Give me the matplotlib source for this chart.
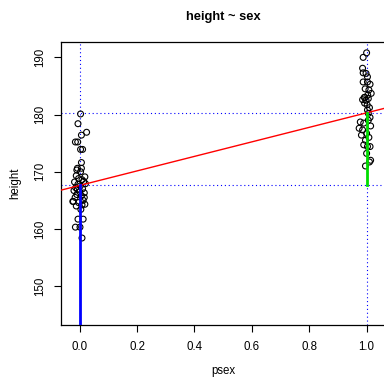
import numpy as np
import matplotlib
matplotlib.use("Agg")
import matplotlib.pyplot as plt

plt.rcParams['font.family'] = ['Liberation Sans', 'DejaVu Sans']

# jittered psex and height
f_psex = [0.003, -0.006, 0.024, 0.006, -0.015, -0.007, 0.003, 0.010, 0.006, -0.008,
          0.006, -0.010, 0.003, 0.018, -0.012, -0.004, 0.008, -0.018, 0.014, -0.006,
          0.002, 0.020, -0.014, 0.010, -0.020, 0.000, 0.016, -0.010, 0.006, -0.016,
          -0.022, 0.012, -0.004, 0.018, -0.012, 0.008, -0.024, 0.004, -0.006, 0.012,
          -0.015, 0.001, 0.008, 0.016, -0.008]
f_height = [180.1, 178.4, 176.9, 176.4, 175.2, 175.2, 173.9, 173.9, 171.6, 170.6,
            170.6, 170.3, 170.0, 169.1, 169.3, 168.8, 168.6, 168.2, 168.3, 167.8,
            167.5, 167.9, 167.2, 167.0, 166.7, 166.5, 166.3, 166.0, 165.8, 165.5,
            164.8, 165.0, 164.6, 164.3, 164.0, 164.2, 164.8, 163.4, 161.7, 161.7,
            160.3, 160.3, 158.4, 165.5, 166.9]

m_psex = [1.000, 0.988, 0.986, 0.988, 0.998, 1.003, 0.988, 1.003, 1.012, 0.995,
          1.008, 1.016, 1.004, 0.992, 0.986, 0.998, 0.993, 1.002, 1.010, 1.003,
          1.006, 1.012, 1.006, 0.978, 0.990, 1.014, 0.974, 0.986, 1.000, 0.982,
          1.008, 0.996, 0.990, 1.003, 1.012, 1.000, 1.014, 0.996, 1.010, 0.994,
          1.006]
m_height = [190.8, 190.0, 188.1, 187.3, 187.2, 186.6, 185.7, 185.7, 185.3, 184.5,
            184.3, 183.7, 183.4, 183.0, 182.6, 182.5, 182.0, 181.7, 181.2, 180.8,
            180.2, 179.5, 179.0, 178.7, 178.5, 178.0, 177.6, 177.3, 176.7, 176.4,
            176.0, 175.5, 174.7, 174.4, 174.4, 173.2, 172.0, 171.0, 171.7, 183.0,
            182.8]

# fitted lm(height ~ sex)
b0 = 167.6
b1 = 12.7

fig = plt.figure(figsize=(3.84, 3.78), dpi=100)
ax = fig.add_axes([0.159, 0.139, 0.845, 0.75])

xlim = (-0.065, 1.066)
ylim = (143.1, 192.7)

ax.scatter(f_psex + m_psex, f_height + m_height, s=18, facecolors='none',
           edgecolors='black', linewidths=0.8, zorder=3)

xx = np.array(xlim)
ax.plot(xx, b0 + b1 * xx, color='red', lw=1, zorder=4)

for v in [0, 1]:
    ax.axvline(v, color='blue', ls=(0, (1, 2.5)), lw=0.8, zorder=2)
for h in [b0, b0 + b1]:
    ax.axhline(h, color='blue', ls=(0, (1, 2.5)), lw=0.8, zorder=2)

ax.plot([0, 0], [ylim[0], b0], color='blue', lw=2, zorder=5)
ax.plot([1, 1], [b0, b0 + b1], color='#00dd00', lw=2, zorder=5)

ax.set_xlim(*xlim)
ax.set_ylim(*ylim)
ax.set_xticks([0, 0.2, 0.4, 0.6, 0.8, 1.0])
ax.set_xticklabels(['0.0', '0.2', '0.4', '0.6', '0.8', '1.0'])
ax.set_yticks([150, 160, 170, 180, 190])
ax.set_yticklabels(['150', '160', '170', '180', '190'], rotation=90, va='center')
ax.tick_params(direction='out', length=5, width=0.8, labelsize=8.3, pad=6)
for s in ax.spines.values():
    s.set_linewidth(0.9)

ax.set_xlabel('psex', fontsize=8.3, labelpad=9)
ax.set_ylabel('height', fontsize=8.3, labelpad=9)
ax.set_title('height ~ sex', fontsize=9.3, fontweight='bold', pad=16)

fig.savefig('out.png', dpi=100)
